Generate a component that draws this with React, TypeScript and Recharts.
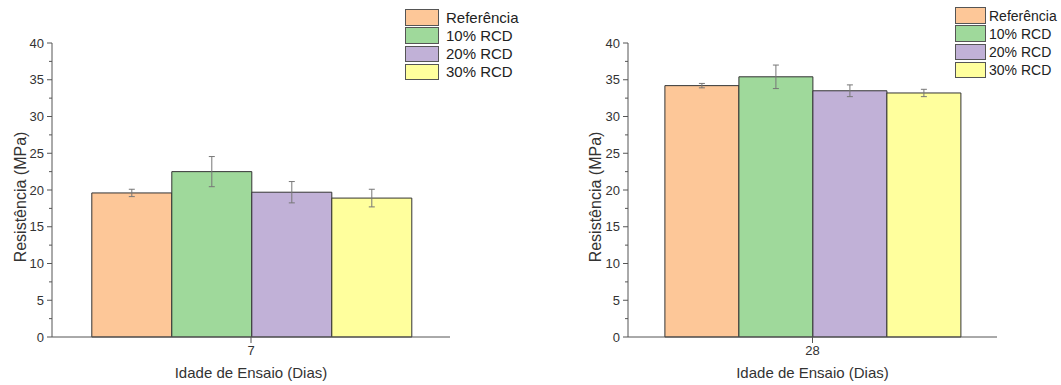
/** @jsxRuntime automatic */
import { BarChart, Bar, XAxis, YAxis, ErrorBar } from "recharts";

const SERIES = ["Referência", "10% RCD", "20% RCD", "30% RCD"];
const COLORS = ["#FDC798", "#9FD99B", "#C1B1D7", "#FFFF9D"];
// note: a data key called "ref" gets spread onto elements as a React ref, so avoid it
const KEYS = ["base", "r10", "r20", "r30"];

const AGE_7 = ["7"];
const VALUES_7 = [19.6, 22.5, 19.7, 18.9];
const ERRORS_7 = [0.5, 2.05, 1.45, 1.2];

const AGE_28 = ["28"];
const VALUES_28 = [34.2, 35.4, 33.5, 33.2];
const ERRORS_28 = [0.3, 1.6, 0.8, 0.5];

const Y_TICKS = [0, 2.5, 5, 7.5, 10, 12.5, 15, 17.5, 20, 22.5, 25, 27.5, 30, 32.5, 35, 37.5, 40];

const FONT = "Arial, 'Liberation Sans', sans-serif";
const AXIS = "#555";
const TEXT = "#333";

function buildData(cat: string[], values: number[], errors: number[]) {
    const row: Record<string, string | number> = { name: cat[0] };
    KEYS.forEach((k, i) => {
        row[k] = values[i];
        row[k + "Err"] = errors[i];
    });
    return [row];
}

function renderYTick(p: any) {
    const x = p.x;
    const y = p.y;
    const v = p.payload.value;
    const major = v % 5 === 0;
    return (
        <g>
            <line x1={x - (major ? 5 : 3)} x2={x} y1={y} y2={y} stroke={AXIS} strokeWidth={1} />
            {major && (
                <text x={x - 8} y={y} dy={4.5} textAnchor="end" fontSize={13} fill={TEXT} fontFamily={FONT}>
                    {v}
                </text>
            )}
        </g>
    );
}

function Legendbox({ left, top, boxW, textX, size }: { left: number; top: number; boxW: number; textX: number; size: number }) {
    return (
        <div style={{ position: "absolute", left, top, fontFamily: FONT, fontSize: size, color: "#222" }}>
            {SERIES.map((s, i) => (
                <div key={s} style={{ position: "relative", height: 18.3 }}>
                    <div style={{ position: "absolute", left: 0, top: 0, width: boxW, height: 16.5, background: COLORS[i], border: "1px solid #555", boxSizing: "border-box" }} />
                    <div style={{ position: "absolute", left: textX, top: -0.5, lineHeight: "18px", whiteSpace: "nowrap" }}>{s}</div>
                </div>
            ))}
        </div>
    );
}

function Panel({ data, width, yLabelX }: { data: any[]; width: number; yLabelX: number }) {
    const xLabel = (p: any) => {
        const vb = p.viewBox;
        return (
            <text x={vb.x + vb.width / 2} y={378} textAnchor="middle" fontSize={15} fill={TEXT} fontFamily={FONT}>
                Idade de Ensaio (Dias)
            </text>
        );
    };
    const yLabel = (p: any) => {
        const vb = p.viewBox;
        const cy = vb.y + vb.height / 2 + 7;
        return (
            <text x={yLabelX} y={cy} transform={`rotate(-90, ${yLabelX}, ${cy})`} textAnchor="middle" dominantBaseline="central" fontSize={16} fill={TEXT} fontFamily={FONT}>
                Resistência (MPa)
            </text>
        );
    };
    return (
        <BarChart width={width} height={385} data={data} margin={{ top: 43, right: 20, bottom: 0, left: 0 }} barGap={0} barCategoryGap="10%">
            <XAxis
                dataKey="name"
                stroke={AXIS}
                tick={{ fill: TEXT, fontSize: 13, fontFamily: FONT }}
                tickSize={6}
                tickMargin={3}
                height={48}
                label={{ content: xLabel }}
            />
            <YAxis
                width={52}
                domain={[0, 40]}
                ticks={Y_TICKS}
                interval={0}
                stroke={AXIS}
                tickLine={false}
                tickSize={0}
                tickMargin={0}
                tick={renderYTick}
                label={{ content: yLabel }}
            />
            {KEYS.map((k, i) => (
                <Bar key={k} dataKey={k} fill={COLORS[i]} stroke="#333" strokeWidth={1} isAnimationActive={false}>
                    <ErrorBar dataKey={k + "Err"} direction="y" width={3} stroke="#777" strokeWidth={1} />
                </Bar>
            ))}
        </BarChart>
    );
}

export default function App() {
    const data7 = buildData(AGE_7, VALUES_7, ERRORS_7);
    const data28 = buildData(AGE_28, VALUES_28, ERRORS_28);
    return (
        <div style={{ position: "absolute", left: 0, top: 0, width: 1061, height: 385, background: "#fff", overflow: "hidden" }}>
            <div style={{ position: "absolute", left: 0, top: 0 }}>
                <Panel data={data7} width={470} yLabelX={20} />
            </div>
            <div style={{ position: "absolute", left: 576, top: 0 }}>
                <Panel data={data28} width={441} yLabelX={19} />
            </div>
            <Legendbox left={405} top={9} boxW={34} textX={41} size={15} />
            <Legendbox left={955} top={7} boxW={31} textX={34} size={14} />
        </div>
    );
}
